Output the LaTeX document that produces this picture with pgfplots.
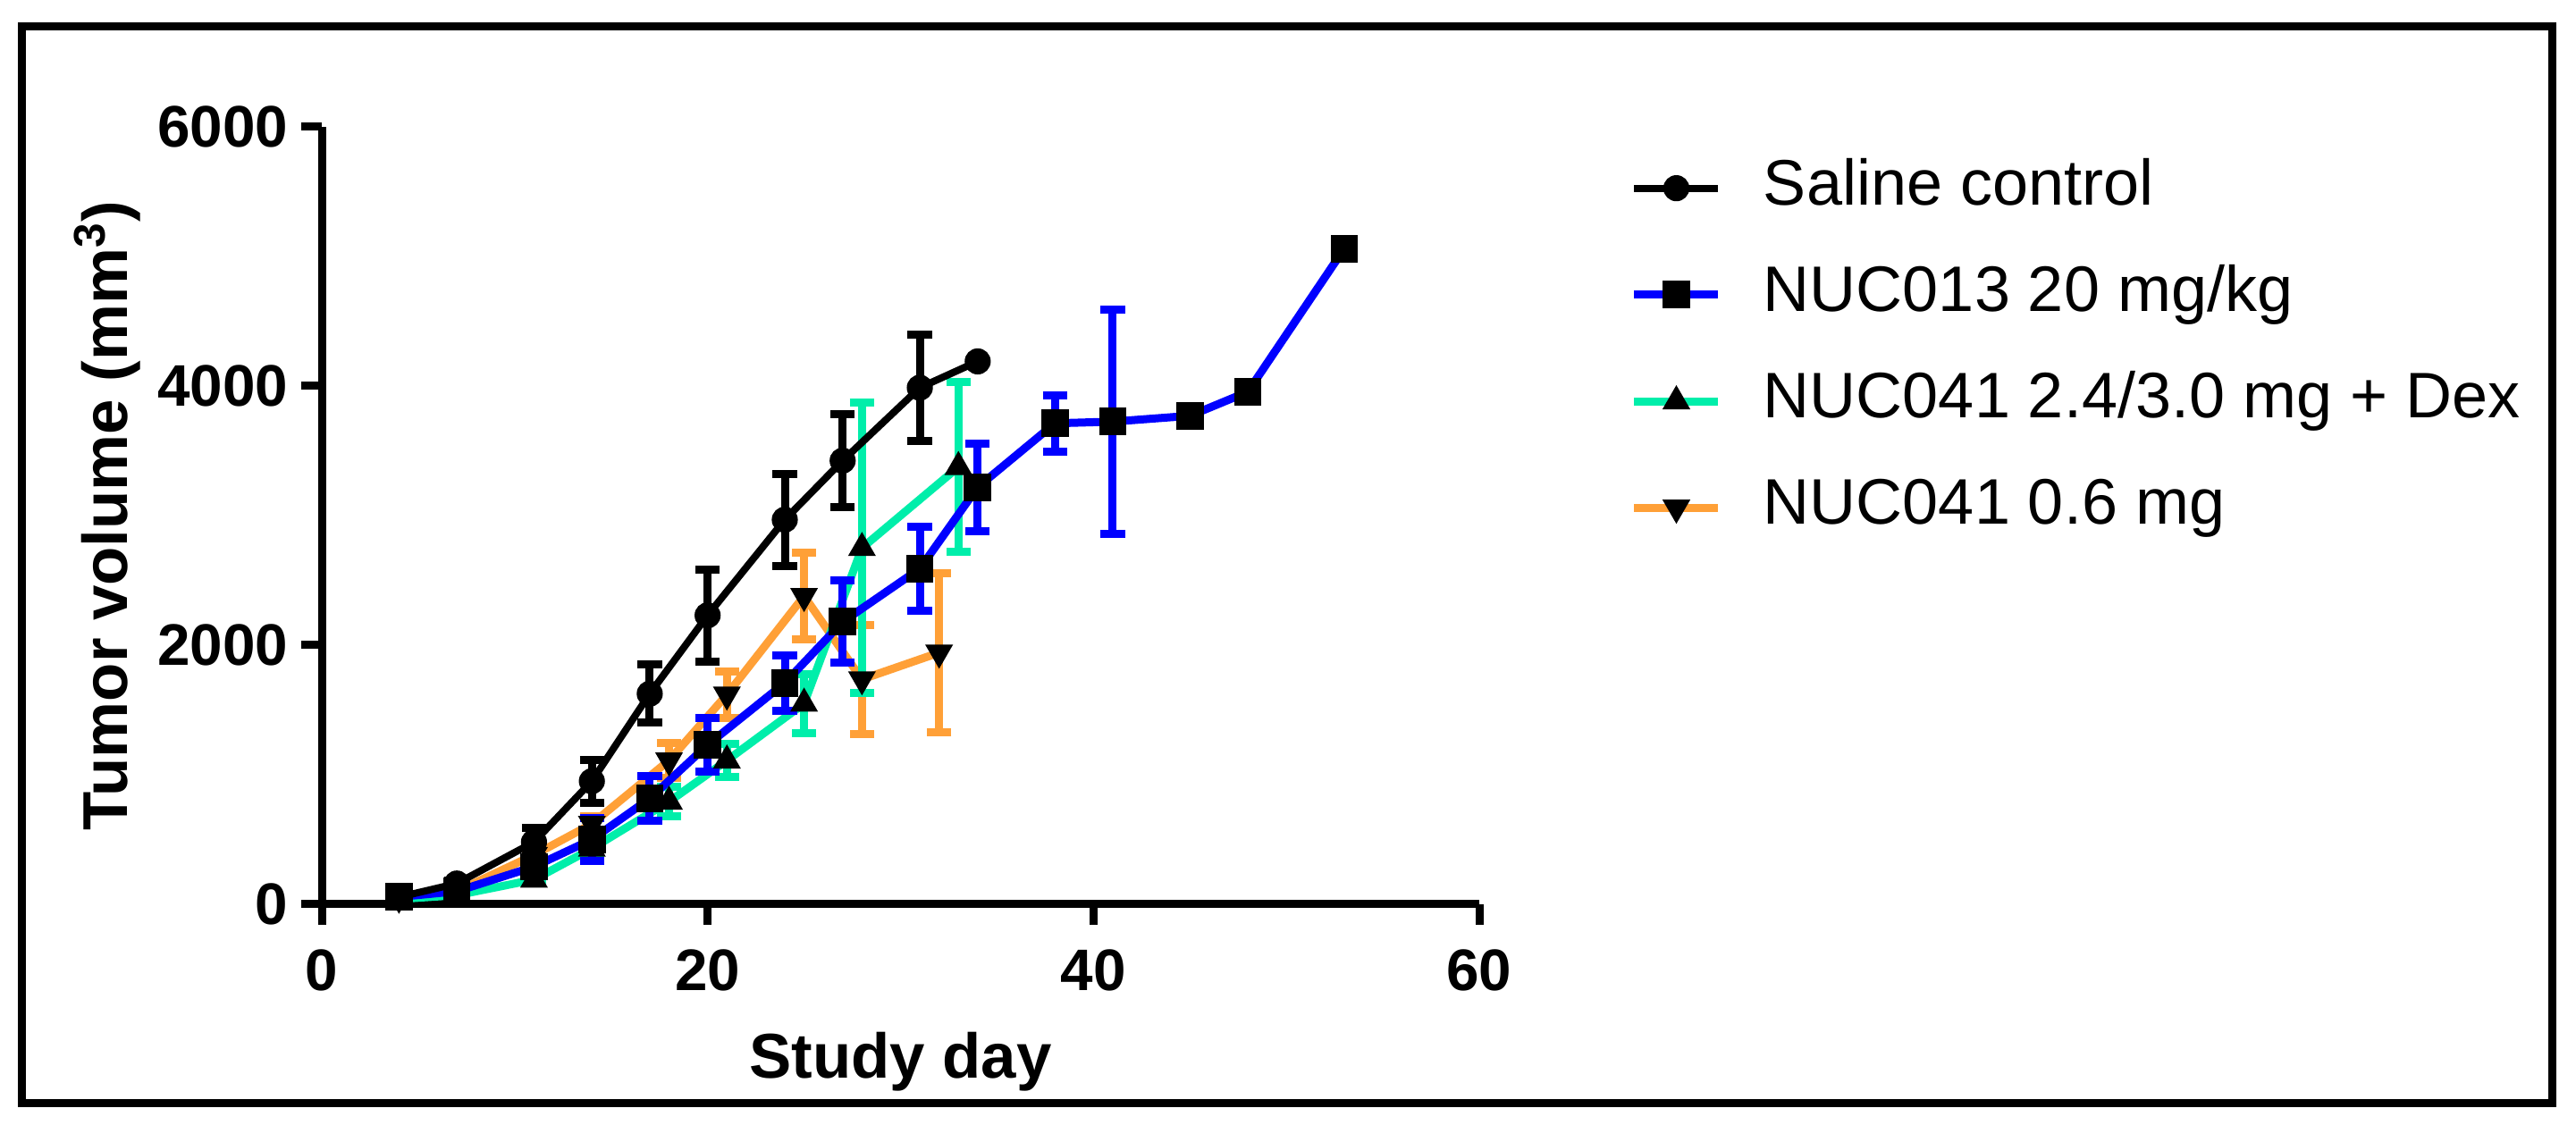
\documentclass[border=0pt]{standalone}
\usepackage{fontspec}
\setmainfont{Liberation Sans}
\usepackage{pgfplots}
\usepackage{pgfplotstable}
\pgfplotsset{compat=1.18}
\definecolor{cblue}{RGB}{0,0,255}
\definecolor{cmint}{RGB}{0,238,170}
\definecolor{corange}{RGB}{255,160,55}

\pgfplotstableread{
x y e
4 55 0
7 160 20
11 480 110
14 950 165
17 1625 225
20 2230 356
24 2968 356
27 3424 357
31 3987 408
34 4190 0
}\saline
\pgfplotstableread{
x y e
4 57 0
7 100 15
11 290 60
14 500 165
17 816 173
20 1230 207
24 1708 214
27 2180 317
31 2590 322
34 3219 338
38 3712 217
41 3725 868
45 3770 0
48 3955 0
53 5060 0
}\nucA
\pgfplotstableread{
x y e
4 40 0
7 70 0
11 190 30
14 430 40
18 792 114
21 1110 128
25 1549 228
28 2750 1121
33 3375 657
}\nucB
\pgfplotstableread{
x y e
4 50 0
7 100 0
11 380 0
14 620 60
18 1110 132
21 1618 180
25 2379 332
28 1736 422
32 1942 612
}\nucC

\begin{document}
\begin{tikzpicture}
\useasboundingbox (0,0) rectangle (720.5pt,314.75pt);
\draw[line width=2.25pt] (6pt,6pt) rectangle (713.75pt,307.25pt);
\begin{axis}[
  at={(90pt,61.75pt)}, anchor=south west,
  scale only axis, width=323.75pt, height=217.5pt,
  xmin=0, xmax=60, ymin=0, ymax=6000,
  clip=false,
  axis x line*=bottom, axis y line*=left,
  axis line style={-, line width=2.25pt},
  every tick/.style={black, line width=2.25pt},
  tick align=outside, major tick length=5.75pt,
  xtick={0,20,40,60}, xticklabels={0,20,40,60},
  ytick={0,2000,4000,6000}, yticklabels={0,2000,4000,6000},
  ticklabel style={font=\fontsize{16.4}{19}\selectfont\bfseries, inner sep=0pt},
  yticklabel style={xshift=-3.5pt},
  xticklabel style={yshift=-6.75pt},
  xlabel={Study day},
  ylabel={Tumor volume (mm\textsuperscript{3})},
  label style={font=\fontsize{17.7}{20}\selectfont\bfseries, inner sep=0pt},
  xlabel style={at={(axis description cs:0.5,-0.2241)}, anchor=base},
  ylabel style={at={(axis description cs:-0.1676,0.5)}, anchor=base, rotate=0},
  reverse legend,
  legend style={draw=none, fill=none, at={(1.1305,0.9586)}, anchor=north west,
    font=\fontsize{18}{20}\selectfont, inner sep=0pt, outer sep=0pt,
    row sep=13.5pt,
    nodes={inner sep=0pt, text height=12.8pt, text depth=3.5pt}},
  legend cell align=left,
  /tikz/every odd column/.append style={column sep=11.5pt},
  legend image code/.code={
    \draw[mark repeat=2,mark phase=2,#1] plot coordinates {(0pt,0pt) (11.75pt,0pt) (23.5pt,0pt)};
  },
]
\addplot[corange, line width=2.25pt, mark=triangle*, mark size=4pt,
  mark options={fill=black, draw=black, rotate=180, line width=0.5pt},
  error bars/.cd, y dir=both, y explicit,
  error bar style={corange, line width=2.25pt},
  error mark options={corange, rotate=90, mark size=3.4pt, line width=2.25pt}]
  table[x=x, y=y, y error=e] {\nucC};
\addlegendentry{NUC041 0.6 mg}
\addplot[cmint, line width=2.25pt, mark=triangle*, mark size=4pt,
  mark options={fill=black, draw=black, line width=0.5pt},
  error bars/.cd, y dir=both, y explicit,
  error bar style={cmint, line width=2.25pt},
  error mark options={cmint, rotate=90, mark size=3.4pt, line width=2.25pt}]
  table[x=x, y=y, y error=e] {\nucB};
\addlegendentry{NUC041 2.4/3.0 mg + Dex}
\addplot[cblue, line width=2.25pt, mark=square*, mark size=3.6pt,
  mark options={fill=black, draw=black, line width=0.5pt},
  error bars/.cd, y dir=both, y explicit,
  error bar style={cblue, line width=2.25pt},
  error mark options={cblue, rotate=90, mark size=3.4pt, line width=2.25pt}]
  table[x=x, y=y, y error=e] {\nucA};
\addlegendentry{NUC013 20 mg/kg}
\addplot[black, line width=2pt, mark=*, mark size=3.4pt,
  mark options={fill=black, draw=black, line width=0.5pt},
  error bars/.cd, y dir=both, y explicit,
  error bar style={black, line width=2.25pt},
  error mark options={black, rotate=90, mark size=3.4pt, line width=2.25pt}]
  table[x=x, y=y, y error=e] {\saline};
\addlegendentry{Saline control}
\end{axis}
\end{tikzpicture}
\end{document}
